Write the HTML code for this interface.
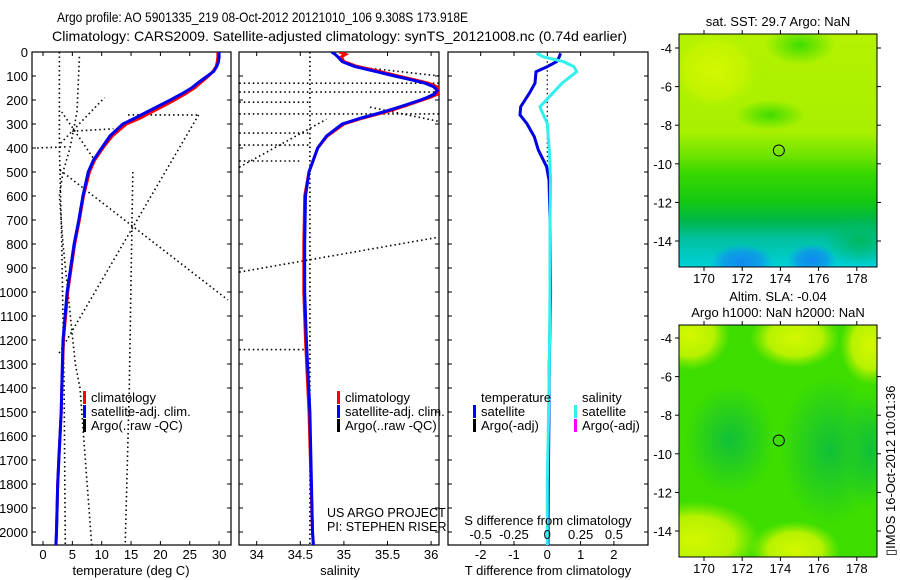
<!DOCTYPE html>
<html><head><meta charset="utf-8"><style>
html,body{margin:0;padding:0;background:#fff;width:900px;height:580px;overflow:hidden;}
svg{display:block;font-family:"Liberation Sans",sans-serif;overflow:hidden;}
</style></head><body>
<svg id="fig" width="900" height="580" viewBox="0 0 900 580" xmlns="http://www.w3.org/2000/svg">
<defs>
<linearGradient id="g1" x1="0" y1="0" x2="0" y2="1">
 <stop offset="0" stop-color="#b4f200"/><stop offset="0.42" stop-color="#a8f000"/>
 <stop offset="0.52" stop-color="#70e400"/><stop offset="0.6" stop-color="#38d800"/>
 <stop offset="0.72" stop-color="#14c810"/><stop offset="0.8" stop-color="#00b848"/>
 <stop offset="0.88" stop-color="#00c0a0"/><stop offset="1" stop-color="#00d0d8"/>
</linearGradient>
<radialGradient id="rBlue"><stop offset="0" stop-color="#1088f0"/><stop offset="0.6" stop-color="#1090f0" stop-opacity="0.7"/><stop offset="1" stop-color="#10a0f0" stop-opacity="0"/></radialGradient>
<radialGradient id="rGreen"><stop offset="0" stop-color="#40dc00"/><stop offset="1" stop-color="#40dc00" stop-opacity="0"/></radialGradient>
<radialGradient id="rYel"><stop offset="0" stop-color="#d4f800"/><stop offset="0.6" stop-color="#c4f400" stop-opacity="0.9"/><stop offset="1" stop-color="#a0f000" stop-opacity="0"/></radialGradient>
<radialGradient id="rDark"><stop offset="0" stop-color="#10c038"/><stop offset="1" stop-color="#10c038" stop-opacity="0"/></radialGradient>
<radialGradient id="rTeal"><stop offset="0" stop-color="#00b860"/><stop offset="1" stop-color="#00b860" stop-opacity="0"/></radialGradient>
<clipPath id="clipM1"><rect x="679" y="34" width="198" height="233"/></clipPath>
<clipPath id="clipM2"><rect x="679" y="325" width="198" height="232"/></clipPath>
<clipPath id="clipP1"><rect x="32" y="52" width="199" height="493"/></clipPath>
<clipPath id="clipP2"><rect x="239" y="52" width="200" height="493"/></clipPath>
<clipPath id="clipP3"><rect x="448" y="52" width="200" height="493"/></clipPath>
</defs>
<text x="57" y="22" font-size="14" textLength="411" lengthAdjust="spacingAndGlyphs">Argo profile: AO 5901335_219 08-Oct-2012 20121010_106 9.308S 173.918E</text>
<text x="52" y="41" font-size="14" textLength="575" lengthAdjust="spacingAndGlyphs">Climatology: CARS2009. Satellite-adjusted climatology: synTS_20121008.nc (0.74d earlier)</text>

<g id="map1">
 <g clip-path="url(#clipM1)">
  <rect x="679" y="34" width="198" height="233" fill="url(#g1)"/>
  <ellipse cx="715" cy="70" rx="50" ry="45" fill="url(#rYel)"/>
  <ellipse cx="800" cy="45" rx="35" ry="20" fill="url(#rGreen)"/>
  <ellipse cx="770" cy="115" rx="35" ry="15" fill="url(#rGreen)"/>
  <ellipse cx="860" cy="240" rx="35" ry="25" fill="url(#rTeal)"/>
  <ellipse cx="742" cy="262" rx="32" ry="18" fill="url(#rBlue)"/>
  <ellipse cx="812" cy="260" rx="25" ry="16" fill="url(#rBlue)"/>
 </g>
 <rect x="679" y="34" width="198" height="233" fill="none" stroke="#000"/>
</g>
<g id="map2">
 <g clip-path="url(#clipM2)">
  <rect x="679" y="325" width="198" height="232" fill="#3ede00"/>
  <ellipse cx="730" cy="440" rx="45" ry="55" fill="url(#rDark)"/>
  <ellipse cx="830" cy="450" rx="50" ry="75" fill="url(#rDark)"/>
  <ellipse cx="870" cy="450" rx="25" ry="60" fill="url(#rDark)"/>
  <ellipse cx="690" cy="335" rx="40" ry="35" fill="url(#rYel)"/>
  <ellipse cx="795" cy="338" rx="45" ry="30" fill="url(#rYel)"/>
  <ellipse cx="870" cy="345" rx="30" ry="40" fill="url(#rYel)"/>
  <ellipse cx="695" cy="540" rx="65" ry="39" fill="url(#rYel)"/>
  <ellipse cx="795" cy="550" rx="45" ry="29" fill="url(#rYel)"/>
 </g>
 <rect x="679" y="325" width="198" height="232" fill="none" stroke="#000"/>
</g>
<g id="axes"></g>
<g id="marks"></g>
<g id="texts"></g>
</svg>
<script>
// ---------- data ----------
const depthTicks = [0,100,200,300,400,500,600,700,800,900,1000,1100,1200,1300,1400,1500,1600,1700,1800,1900,2000];
const tempTicks = [0,5,10,15,20,25,30];
const salTicks = [34,34.5,35,35.5,36];
const salTickLabels = ["34","34.5","35","35.5","36"];
const tdiffTicks = [-2,-1,0,1,2];
const sdiffTicks = [-0.5,-0.25,0,0.25,0.5];
const sdiffTickLabels = ["-0.5","-0.25","0","0.25","0.5"];
const lonTicks = [170,172,174,176,178];
const latTicks = [-4,-6,-8,-10,-12,-14];

const depths = [0,20,40,60,80,100,125,150,175,200,225,250,275,300,350,400,450,500,600,700,800,1000,1200,1400,1500,1600,1700,1800,1900,2000,2054];
const tempClim = [29.8,29.8,29.7,29.5,29.0,28.2,27.0,25.8,24.2,22.4,20.5,18.5,16.6,14.2,11.8,10.2,8.8,7.9,6.9,6.2,5.4,4.2,3.5,3.2,3.1,2.9,2.7,2.5,2.4,2.3,2.2];
const tempSat  = [30.0,30.0,29.9,29.6,29.1,28.0,26.6,25.3,23.6,21.7,19.7,17.7,15.7,13.6,11.4,10.0,8.6,7.7,6.8,6.1,5.3,4.1,3.4,3.2,3.1,2.9,2.7,2.5,2.4,2.3,2.2];
const salDepths = [0,10,20,40,60,80,100,115,130,145,160,175,190,200,225,250,275,300,350,400,500,600,800,1000,1200,1500,2000,2054];
const salClim = [34.95,35.02,34.97,35.0,35.15,35.4,35.62,35.8,35.97,36.07,36.12,36.08,35.98,35.9,35.7,35.48,35.22,35.0,34.81,34.7,34.6,34.55,34.54,34.54,34.56,34.6,34.64,34.65];
const salSat  = [34.86,34.9,34.93,34.98,35.12,35.35,35.58,35.76,35.93,36.03,36.07,36.04,35.95,35.88,35.67,35.45,35.2,34.98,34.8,34.7,34.6,34.56,34.55,34.55,34.57,34.61,34.64,34.65];
const diffDepths = [5,20,40,61,82,130,172,228,262,297,353,408,478,533,700,1000,1300,1500,1800,2054];
const tDiffSat = [0.40,0.36,0.28,0.0,-0.34,-0.37,-0.54,-0.8,-0.82,-0.62,-0.39,-0.27,-0.02,0.05,0.08,0.1,0.06,0.05,0.03,0.02];
const sDiffSat = [-0.08,-0.03,0.12,0.2,0.22,0.11,0.04,-0.055,-0.03,0.0,0.007,0.015,0.02,0.025,0.02,0.02,0.015,0.01,0.0,0.0];
const argoTemp = [
 [[2.8,0],[2.8,400],[3.2,800],[3.6,1400],[3.8,2054]],
 [[6.2,20],[5.8,250],[4.6,400],[3.4,500],[2.8,600],[3.4,800],[5.5,1300],[6.3,1400],[8.3,2054]],
 [[15.3,500],[14.7,1400],[14.0,2054]],
 [[14.5,262],[26.5,262]],
 [[26.5,262],[2.5,1265]],
 [[2.9,492],[31.5,1033]],
 [[3,380],[10.5,190]],
 [[8.5,440],[3.2,250]],
 [[-1,400],[4,395]],
 [[5,330],[12,320]]
];
const argoSal = [
 [[34.61,0],[34.61,2054]],
 [[33.8,130],[36.1,130]],
 [[33.8,167],[36.1,167]],
 [[33.8,209],[34.6,209]],
 [[33.8,258],[36.1,258]],
 [[33.8,338],[34.6,338]],
 [[33.8,388],[34.6,388]],
 [[33.8,454],[34.5,454]],
 [[35.1,60],[36.1,100]],
 [[35.3,230],[36.1,290]],
 [[33.8,480],[34.8,280]],
 [[33.8,917],[36.1,771]],
 [[33.8,1240],[34.55,1240]]
];
const argoDiff = [[[0,20],[0,520]]];
const floatPos = [173.918,-9.308];

// ---------- scales ----------
const yD = d => 52 + d*0.24;
const xT = t => 43 + t*5.87;
const xS = s => 256.7 + (s-34)*87.2;
const xTd = v => 547.3 + v*33.3;
const xSd = v => 547.3 + v*133.3;
const mLon = l => 704 + (l-170)*19.1;
const m1Lat = a => 48 + (-4-a)*19.3;
const m2Lat = a => 338 + (-4-a)*19.3;

const NS = "http://www.w3.org/2000/svg";
const axes = document.getElementById('axes');
const marks = document.getElementById('marks');
const texts = document.getElementById('texts');
function mk(tag, attrs, parent){ const e=document.createElementNS(NS,tag); for(const k in attrs) e.setAttribute(k,attrs[k]); parent.appendChild(e); return e; }
function txt(x,y,s,anchor,size,parent){ const e=mk('text',{x:x,y:y,'font-size':size||13,'text-anchor':anchor||'start'},parent||texts); e.textContent=s; return e; }

const panels = [[32,231,'temperature-panel'],[239,439,'salinity-panel'],[448,648,'difference-panel']];
panels.forEach(p=>{
 const r = mk('rect',{x:p[0],y:52,width:p[1]-p[0],height:493,fill:'none',stroke:'#000','stroke-width':1.2},axes);
 
 
 depthTicks.forEach(d=>{
  mk('line',{x1:p[0],x2:p[0]+4,y1:yD(d),y2:yD(d),stroke:'#000'},axes);
  mk('line',{x1:p[1]-4,x2:p[1],y1:yD(d),y2:yD(d),stroke:'#000'},axes);
 });
});
depthTicks.forEach(d=>{
 const t = txt(28,yD(d)+5,String(d),'end',13);
 
 
});
function xticks(vals, labels, fx){
 vals.forEach((v,i)=>{
  const x=fx(v);
  mk('line',{x1:x,x2:x,y1:545,y2:541,stroke:'#000'},axes);
  mk('line',{x1:x,x2:x,y1:52,y2:56,stroke:'#000'},axes);
  const t = txt(x,559,labels[i],'middle',13);
  
  
 });
}
xticks(tempTicks, tempTicks.map(String), xT);
xticks(salTicks, salTickLabels, xS);
xticks(tdiffTicks, tdiffTicks.map(String), xTd);
sdiffTicks.forEach((v,i)=>{
 const t = txt(xSd(v),539,sdiffTickLabels[i],'middle',13);
 
 
});
let t;
t=txt(131,575,'temperature (deg C)','middle',13);  
t=txt(340,575,'salinity','middle',13);  
t=txt(548,575,'T difference from climatology','middle',13);  
t=txt(548,525,'S difference from climatology','middle',13);  

function poly(xs, ds, fx, color, w, dash, clip, name){
 const pts = xs.map((v,i)=>fx(v).toFixed(1)+','+yD(ds[i]).toFixed(1)).join(' ');
 const e = mk('polyline',{points:pts,fill:'none',stroke:color,'stroke-width':w,'clip-path':'url(#'+clip+')'},marks);
 if(dash) e.setAttribute('stroke-dasharray',dash);
 
 
 return e;
}
argoTemp.forEach(seg=>poly(seg.map(p=>p[0]), seg.map(p=>p[1]), xT, '#000', 1.6, '1.5,3', 'clipP1', 'argo-temperature-raw'));
argoSal.forEach(seg=>poly(seg.map(p=>p[0]), seg.map(p=>p[1]), xS, '#000', 1.6, '1.5,3', 'clipP2', 'argo-salinity-raw'));
argoDiff.forEach(seg=>poly(seg.map(p=>p[0]), seg.map(p=>p[1]), xTd, '#000', 1.2, '1.5,3', 'clipP3', 'zero-line'));
poly(tempClim, depths, xT, '#f00', 3, null, 'clipP1', 'temperature-climatology-line');
poly(tempSat, depths, xT, '#0000f0', 3, null, 'clipP1', 'temperature-satellite-line');
poly(salClim, salDepths, xS, '#f00', 3, null, 'clipP2', 'salinity-climatology-line');
poly(salSat, salDepths, xS, '#0000f0', 3, null, 'clipP2', 'salinity-satellite-line');
poly(tDiffSat, diffDepths, xTd, '#0000e0', 3, null, 'clipP3', 't-diff-satellite-line');
poly(sDiffSat, diffDepths, xSd, '#30f0f0', 3, null, 'clipP3', 's-diff-satellite-line');

function legend(x, y, color, label, name){
 const g = mk('g',{},texts);
 
 
 mk('rect',{x:x,y:y-11,width:3,height:13,fill:color},g);
 const e=mk('text',{x:x+8,y:y,'font-size':13},g); e.textContent=label;
}
legend(83,402,'#f00','climatology','legend-climatology');
legend(83,416,'#00f','satellite-adj. clim.','legend-satellite-adj');
legend(83,430,'#000','Argo(..raw -QC)','legend-argo-raw');
legend(337,402,'#f00','climatology','legend-climatology');
legend(337,416,'#00f','satellite-adj. clim.','legend-satellite-adj');
legend(337,430,'#000','Argo(..raw -QC)','legend-argo-raw');
t=txt(481,402,'temperature');  
t=txt(582,402,'salinity');  
legend(473,416,'#00f','satellite','legend-t-satellite');
legend(473,430,'#000','Argo(-adj)','legend-t-argo');
legend(574,416,'#30f0f0','satellite','legend-s-satellite');
legend(574,430,'#f0f','Argo(-adj)','legend-s-argo');
t=txt(327,517,'US ARGO PROJECT','start',12.5);  
t=txt(327,531,'PI: STEPHEN RISER','start',12.5);  

function mapAxes(fy, top, bottom){
 lonTicks.forEach(l=>{
  const x=mLon(l);
  mk('line',{x1:x,x2:x,y1:top,y2:top-4,stroke:'#000'},axes);
  mk('line',{x1:x,x2:x,y1:bottom,y2:bottom+4,stroke:'#000'},axes);
  const e=txt(x,bottom+16,String(l),'middle',13);  
 });
 latTicks.forEach(a=>{
  const y=fy(a);
  mk('line',{x1:679,x2:675,y1:y,y2:y,stroke:'#000'},axes);
  mk('line',{x1:877,x2:881,y1:y,y2:y,stroke:'#000'},axes);
  const e=txt(672,y+5,String(a),'end',13);  
 });
 const c = mk('circle',{cx:mLon(floatPos[0]),cy:fy(floatPos[1]),r:5.5,fill:'none',stroke:'#000','stroke-width':1},marks);
 
 
}
mapAxes(m1Lat,34,267);
mapAxes(m2Lat,325,557);
t=txt(778,26,'sat. SST: 29.7 Argo: NaN','middle',13);  
t=txt(778,301,'Altim. SLA: -0.04','middle',13);  
t=txt(778,317,'Argo h1000: NaN h2000: NaN','middle',13);  
t=txt(0,0,'\u25AFIMOS 16-Oct-2012 10:01:36','start',13);
t.setAttribute('transform','translate(895,556) rotate(-90)');


</script>
</body></html>
